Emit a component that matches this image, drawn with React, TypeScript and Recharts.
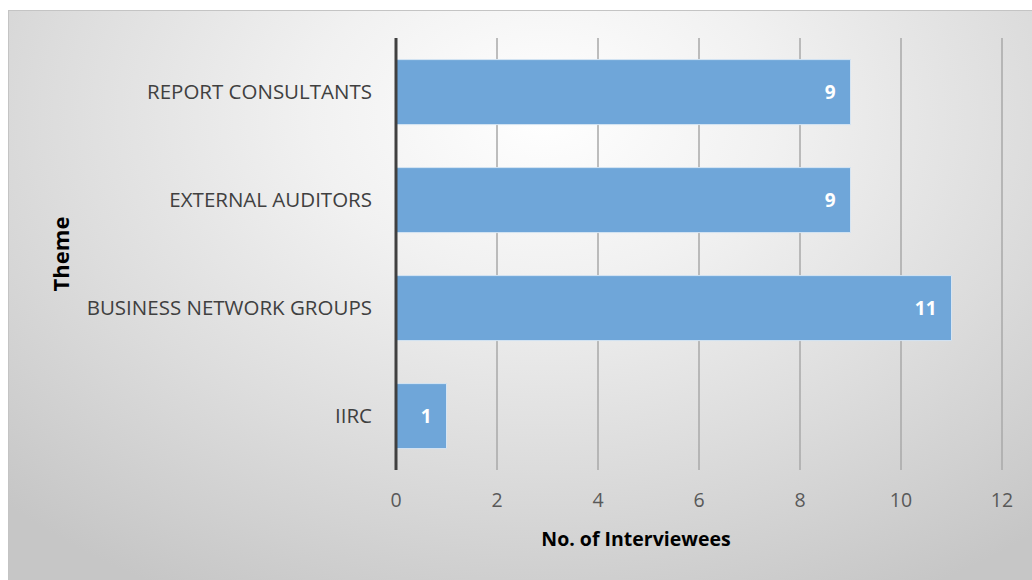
import React from "react";
import { BarChart, Bar, XAxis, YAxis, CartesianGrid, LabelList, Label } from "recharts";

const categories = ["REPORT CONSULTANTS", "EXTERNAL AUDITORS", "BUSINESS NETWORK GROUPS", "IIRC"];
const interviewees = [9, 9, 11, 1];
const xTicks = [0, 2, 4, 6, 8, 10, 12];

const data = categories.map((c, i) => ({ theme: c, value: interviewees[i] }));

const FONT = "'Open Sans', 'Liberation Sans', sans-serif";

export default function App() {
  return (
    <div
      style={{
        position: "absolute",
        left: 8,
        top: 10,
        width: 1030,
        height: 575,
        boxSizing: "border-box",
        border: "1px solid #c4c4c4",
        background: "radial-gradient(ellipse 75% 95% at 52% 18%, #ffffff 0%, #f1f1f1 30%, #dcdcdc 65%, #c6c6c6 100%)",
        fontFamily: FONT,
      }}
    >
      <BarChart
        width={1028}
        height={572}
        data={data}
        layout="vertical"
        barCategoryGap="20%"
        margin={{ top: 27, right: 35, left: 0, bottom: 33 }}
      >
        <CartesianGrid horizontal={false} vertical={true} stroke="#a8a8a8" strokeWidth={1.5} />
        <XAxis
          type="number"
          domain={[0, 12]}
          ticks={xTicks}
          axisLine={false}
          tickLine={false}
          tickMargin={17}
          height={80}
          tick={{ fill: "#595959", fontSize: 19.5, fontFamily: FONT }}
        >
          <Label
            value="No. of Interviewees"
            position="insideBottom"
            offset={4}
            dx={-63}
            style={{ fill: "#000000", fontSize: 19.5, fontWeight: 700, fontFamily: FONT }}
          />
        </XAxis>
        <YAxis
          type="category"
          dataKey="theme"
          width={387}
          axisLine={{ stroke: "#404040", strokeWidth: 3 }}
          tickLine={false}
          tickMargin={18}
          tick={{ fill: "#404040", fontSize: 20.5, fontFamily: FONT }}
        >
          <Label
            value="Theme"
            angle={-90}
            position="insideLeft"
            offset={52}
            style={{ fill: "#000000", fontSize: 22, fontWeight: 700, fontFamily: FONT, textAnchor: "middle" }}
          />
        </YAxis>
        <Bar dataKey="value" fill="#6fa6d9" stroke="#d6e5f3" strokeWidth={1} isAnimationActive={false}>
          <LabelList
            dataKey="value"
            position="insideRight"
            offset={15}
            style={{ fill: "#ffffff", fontSize: 19, fontWeight: 700, fontFamily: FONT }}
          />
        </Bar>
      </BarChart>
    </div>
  );
}
